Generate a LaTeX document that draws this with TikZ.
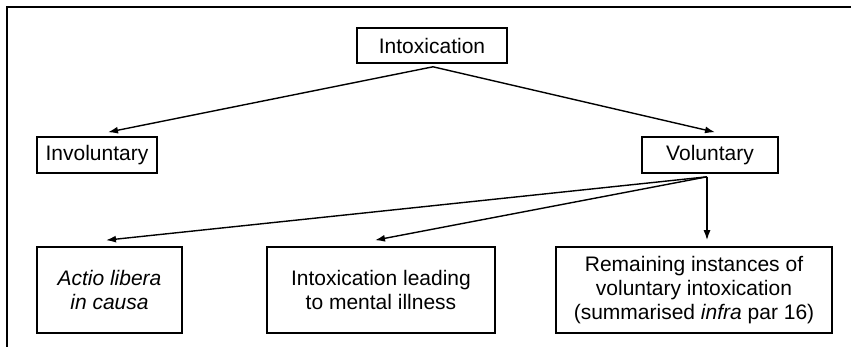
\documentclass[tikz,border=0pt]{standalone}
\usepackage{fontspec}
\setmainfont{Liberation Sans}
\usetikzlibrary{arrows.meta}
\begin{document}
\begin{tikzpicture}[x=1pt,y=-1pt,
  box/.style={draw=black, line width=1.6pt, inner sep=0pt, align=center,
    font=\fontsize{21}{24}\selectfont},
  conn/.style={line width=1.4pt, -{Latex[length=10pt,width=7pt]}},
  frame/.style={line width=1.8pt}]
\useasboundingbox (0,0) rectangle (851,347);
\coordinate (fb) at (7,349);
\coordinate (ftl) at (7,7);
\coordinate (fr) at (853,7);
\draw[frame] (fb) -- (ftl) -- (fr);
\node[box, minimum width=150pt, minimum height=35pt] (intox) at (432,45.5) {Intoxication};
\node[box, minimum width=120pt, minimum height=36pt] (invol) at (97,155) {Involuntary};
\node[box, minimum width=136pt, minimum height=36pt] (vol) at (710,155) {Voluntary};
\node[box, minimum width=145pt, minimum height=86pt] (actio) at (109.5,290) {\itshape Actio libera\\\itshape in causa};
\node[box, minimum width=228pt, minimum height=86pt] (ment) at (381,290) {Intoxication leading\\to mental illness};
\node[box, minimum width=276pt, minimum height=86pt] (rem) at (694,290) {Remaining instances of\\voluntary intoxication\\(summarised \textit{infra} par 16)};
\draw[conn] ([xshift=1pt,yshift=-3pt]intox.south) -- ([xshift=11pt,yshift=4pt]invol.north);
\draw[conn] ([xshift=1pt,yshift=-3pt]intox.south) -- ([xshift=5pt,yshift=4pt]vol.north);
\draw[conn] ([xshift=-3pt,yshift=-3pt]vol.south) -- ([xshift=-3.5pt,yshift=6pt]actio.north);
\draw[conn] ([xshift=-3pt,yshift=-3pt]vol.south) -- ([xshift=-6pt,yshift=6pt]ment.north);
\draw[conn] ([xshift=-3pt,yshift=-3pt]vol.south) -- ([xshift=13pt,yshift=6pt]rem.north);
\end{tikzpicture}
\end{document}
